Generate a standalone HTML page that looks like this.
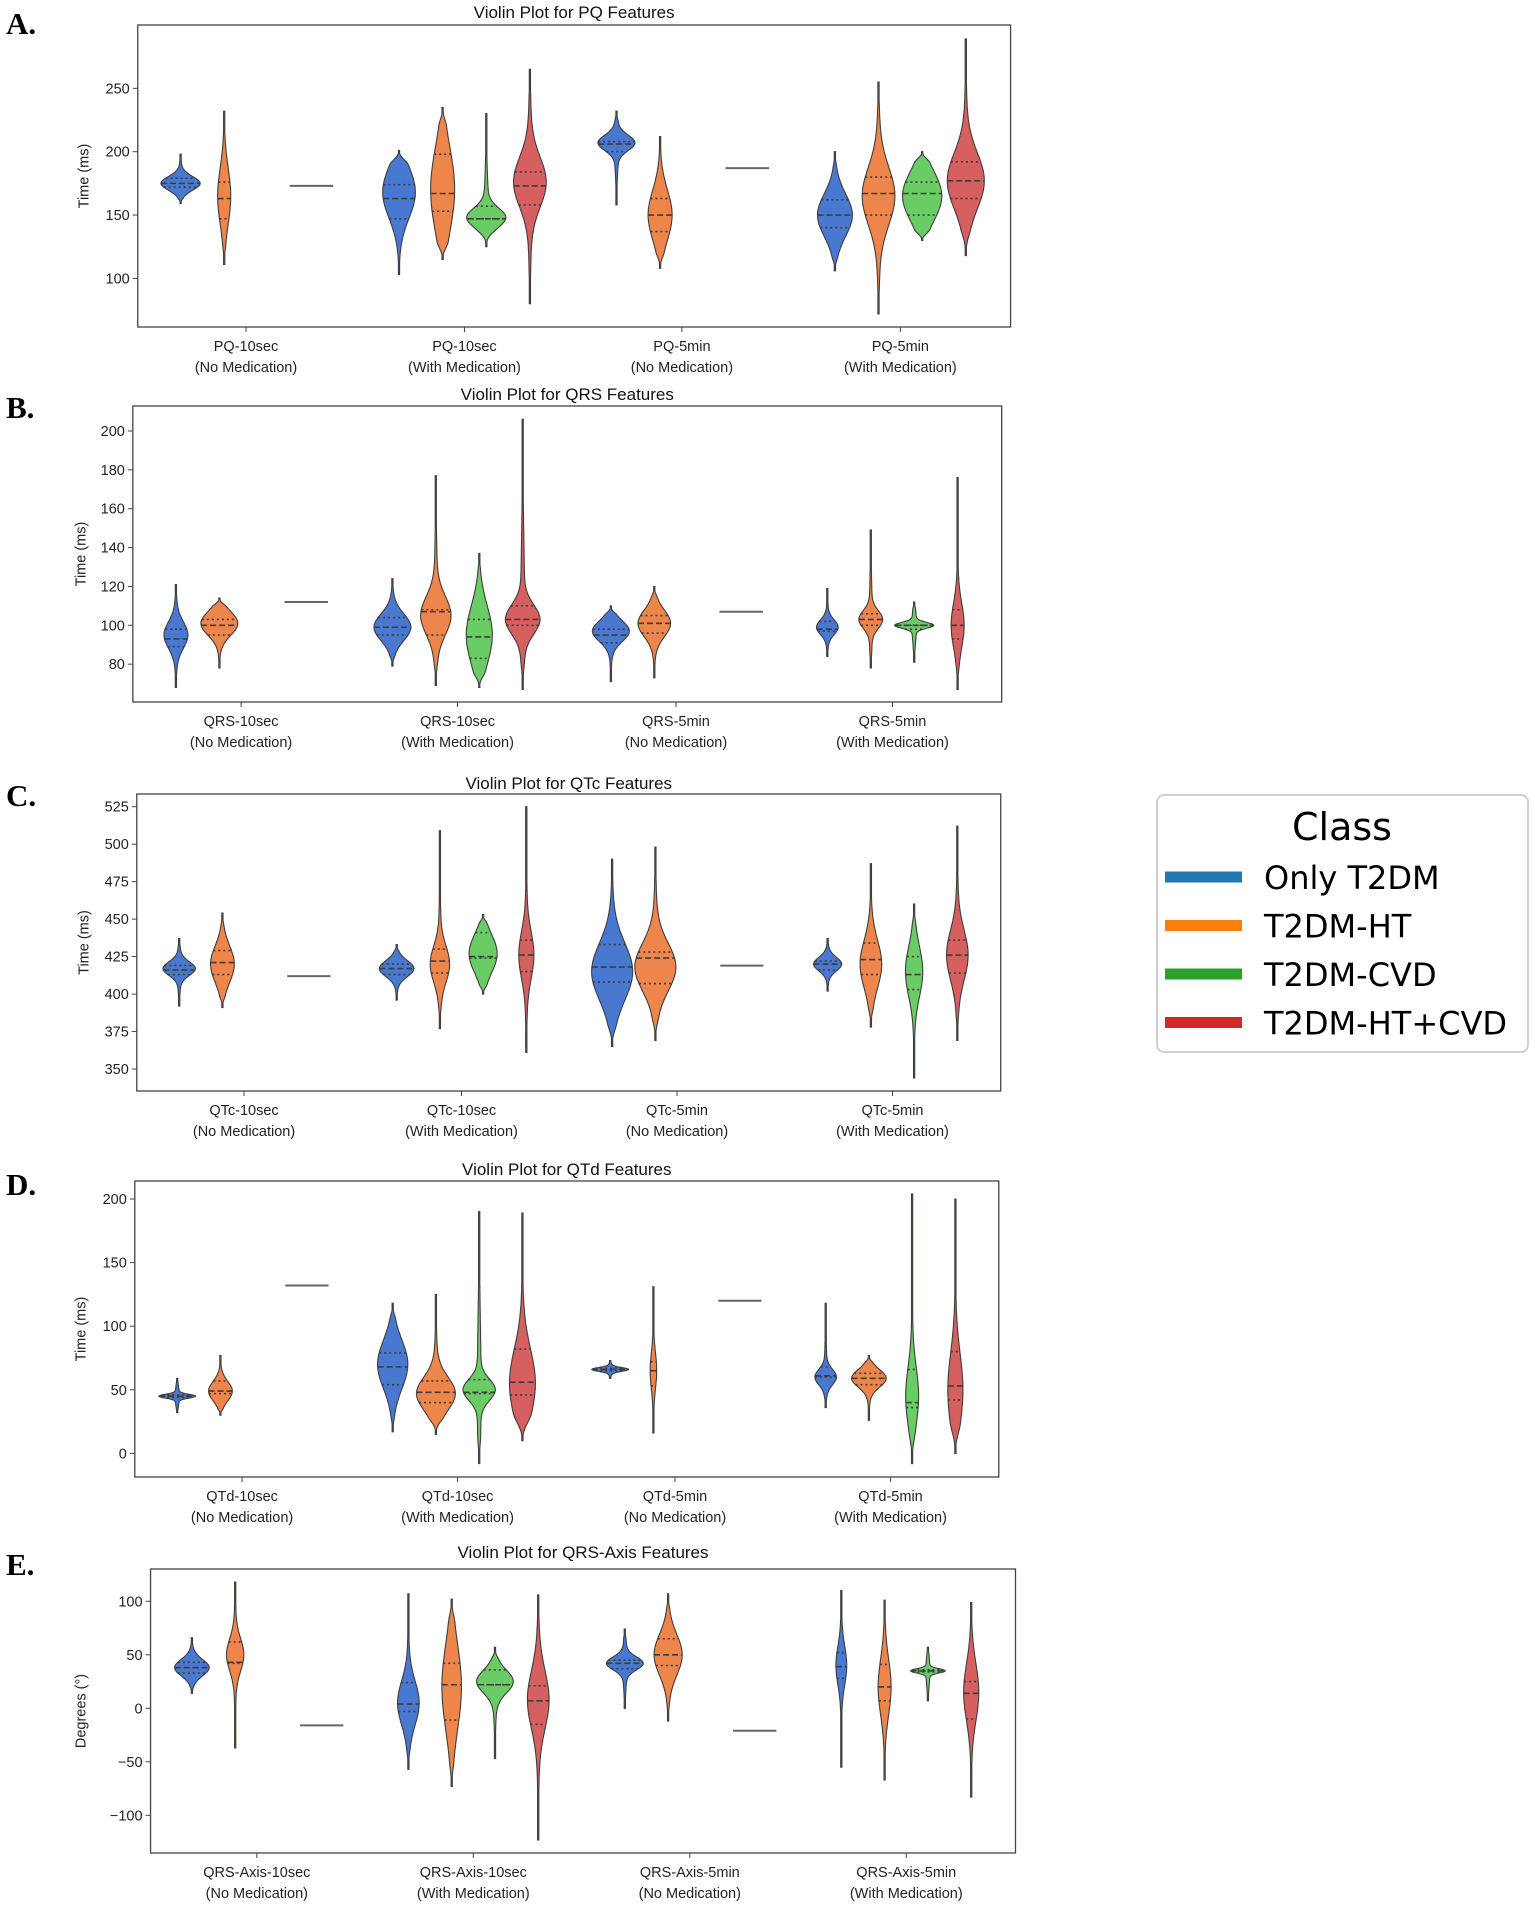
<!DOCTYPE html>
<html><head><meta charset="utf-8"><style>
html,body{margin:0;padding:0;background:#fff;}
svg{display:block;font-family:"Liberation Sans",sans-serif;}
</style></head><body>
<svg id="fig" width="1535" height="1913" viewBox="0 0 1535 1913" xmlns="http://www.w3.org/2000/svg"></svg>
<script>
// ---- Data: each violin = [min, max, q1, median, q3, mode, widthFactor]; null = absent
const hues = ["Only T2DM","T2DM-HT","T2DM-CVD","T2DM-HT+CVD"];
const fillColors = ["#4878d0","#ee854a","#6acc64","#d65f5f"];
const legendColors = ["#1f77b4","#ff7f0e","#2ca02c","#d62728"];
const medLabels = ["(No Medication)","(With Medication)","(No Medication)","(With Medication)"];

const pqCats = ["PQ-10sec","PQ-10sec","PQ-5min","PQ-5min"];
const pqViolins = [
 [[159,198,172,175,179,175,0.9],[111,232,147,163,176,165,0.3],null,null],
 [[103,201,147,163,174,168,0.75],[115,235,153,167,198,170,0.55],[125,230,147,147,157,148,0.9],[80,265,158,173,184,176,0.75]],
 [[158,232,200,206,208,207,0.85],[108,212,137,150,163,150,0.55],null,null],
 [[106,200,140,150,162,150,0.8],[72,255,150,167,180,165,0.75],[130,200,150,167,176,165,0.9],[118,289,163,177,192,177,0.85]]
];
const pqSingles = [173,null,187,null];
const pqTicks = [100,150,200,250];

const qrsCats = ["QRS-10sec","QRS-10sec","QRS-5min","QRS-5min"];
const qrsViolins = [
 [[68,121,89,93,98,95,0.55],[78,114,95,100,103,101,0.85],null,null],
 [[79,124,95,99,104,99,0.85],[69,177,95,107,108,105,0.7],[68,137,83,94,103,95,0.6],[67,206,100,103,110,103,0.8]],
 [[71,110,91,95,98,97,0.85],[73,120,96,101,105,101,0.75],null,null],
 [[84,119,97,98,102,99,0.5],[78,149,100,103,106,103,0.55],[81,112,98,100,100,100,0.9],[67,176,93,100,108,100,0.3]]
];
const qrsSingles = [112,null,107,null];
const qrsTicks = [80,100,120,140,160,180,200];

const qtcCats = ["QTc-10sec","QTc-10sec","QTc-5min","QTc-5min"];
const qtcViolins = [
 [[392,437,413,416,419,417,0.75],[391,454,413,421,429,420,0.55],null,null],
 [[396,433,413,417,420,417,0.8],[377,509,414,422,430,420,0.45],[400,453,424,425,441,427,0.65],[361,525,415,426,436,426,0.35]],
 [[365,490,408,418,433,415,0.95],[369,498,407,424,428,418,0.95],null,null],
 [[402,437,416,420,422,420,0.65],[378,487,413,423,434,420,0.5],[344,460,403,413,425,415,0.4],[369,512,414,426,436,426,0.5]]
];
const qtcSingles = [412,null,419,null];
const qtcTicks = [350,375,400,425,450,475,500,525];

const qtdCats = ["QTd-10sec","QTd-10sec","QTd-5min","QTd-5min"];
const qtdViolins = [
 [[32,59,44,45,46,45,0.85],[30,77,47,49,57,49,0.55],null,null],
 [[17,118,54,68,79,70,0.7],[15,125,40,48,57,47,0.9],[-8,190,47,48,58,50,0.75],[10,189,46,56,82,55,0.6]],
 [[59,73,65,66,67,66,0.85],[16,131,53,65,72,65,0.15],null,null],
 [[36,118,60,61,68,60,0.5],[26,77,54,59,63,59,0.8],[-8,204,36,40,66,45,0.3],[0,200,42,53,80,50,0.35]]
];
const qtdSingles = [132,null,120,null];
const qtdTicks = [0,50,100,150,200];

const axCats = ["QRS-Axis-10sec","QRS-Axis-10sec","QRS-Axis-5min","QRS-Axis-5min"];
const axViolins = [
 [[14,66,33,38,43,38,0.8],[-37,118,42,43,62,50,0.4],null,null],
 [[-57,107,-3,4,24,5,0.5],[-73,102,-11,22,42,20,0.45],[-47,57,22,22,36,25,0.85],[-123,106,-15,7,21,8,0.5]],
 [[0,74,37,42,45,42,0.85],[-12,107,40,50,65,50,0.65],null,null],
 [[-55,110,28,39,52,40,0.25],[-67,101,7,20,41,20,0.3],[7,57,34,35,36,35,0.8],[-83,99,-10,14,25,15,0.35]]
];
const axSingles = [-16,null,-21,null];
const axTicks = [-100,-50,0,50,100];

// ---- layout
const K=0.984;
const panels = [
 {letter:"A.",ly:34,title:"Violin Plot for PQ Features",ty:18,x0:140,x1:1027,y0:25,y1:327,vRef:200,yRef:151.7,ppu:1.267,cats:pqCats,cx:[250,472,693,915],v:pqViolins,s:pqSingles,ticks:pqTicks,ylab:"Time (ms)",ylx:90,name:"pq"},
 {letter:"B.",ly:418,title:"Violin Plot for QRS Features",ty:400,x0:135,x1:1018,y0:406,y1:702,vRef:200,yRef:431,ppu:1.943,cats:qrsCats,cx:[245,465,687,907],v:qrsViolins,s:qrsSingles,ticks:qrsTicks,ylab:"Time (ms)",ylx:87,name:"qrs"},
 {letter:"C.",ly:806,title:"Violin Plot for QTc Features",ty:789,x0:139,x1:1017,y0:794,y1:1091,vRef:525,yRef:806.7,ppu:1.499,cats:qtcCats,cx:[248,469,688,907],v:qtcViolins,s:qtcSingles,ticks:qtcTicks,ylab:"Time (ms)",ylx:90,name:"qtc"},
 {letter:"D.",ly:1195,title:"Violin Plot for QTd Features",ty:1175,x0:137,x1:1015,y0:1181,y1:1477,vRef:200,yRef:1199,ppu:1.272,cats:qtdCats,cx:[246,465,686,905],v:qtdViolins,s:qtdSingles,ticks:qtdTicks,ylab:"Time (ms)",ylx:87,name:"qtd"},
 {letter:"E.",ly:1575,title:"Violin Plot for QRS-Axis Features",ty:1558,x0:153,x1:1032,y0:1569,y1:1853,vRef:100,yRef:1601.3,ppu:1.07,cats:axCats,cx:[261,481,701,921],v:axViolins,s:axSingles,ticks:axTicks,ylab:"Degrees (°)",ylx:87,name:"qrs-axis"}
];
panels.forEach(p=>{p.x0*=K;p.x1*=K;p.cx=p.cx.map(c=>c*K);});
const NS="http://www.w3.org/2000/svg";
const svg=document.getElementById('fig');
function mk(tag,attrs,parent){const e=document.createElementNS(NS,tag);for(const k in attrs)e.setAttribute(k,attrs[k]);(parent||svg).appendChild(e);return e;}
function density(y,d){
  const [mn,mx,q1,md,q3,mode]=d;
  const s=Math.max((q3-q1)/1.35,(mx-mn)/25,1);
  const st=(mx-mn)/3.5;
  const z=(y-mode)/s, zt=(y-mode)/st;
  let dd=Math.exp(-0.5*z*z)+0.13*Math.exp(-0.5*zt*zt);
  const edge=Math.min(y-mn,mx-y)/((mx-mn)*0.12);
  const t=Math.max(0,Math.min(1,edge));
  return dd*(t*t*(3-2*t));
}
panels.forEach(p=>{
  const g=mk('g',{});
  
  
  const yS=v=>p.yRef+(p.vRef-v)*p.ppu;
  const spacing=(p.cx[3]-p.cx[0])/3;
  const maxHalf=spacing*0.8/4/2;
  const L=mk('text',{x:6,y:p.ly,'font-family':'Liberation Serif, serif','font-weight':'bold','font-size':31,fill:'#000'},g);
  L.textContent=p.letter;
  
  
  const T=mk('text',{x:(p.x0+p.x1)/2,y:p.ty,'text-anchor':'middle','font-size':17,fill:'#111'},g);
  T.textContent=p.title;
  
  
  const box=mk('rect',{x:p.x0,y:p.y0,width:p.x1-p.x0,height:p.y1-p.y0,fill:'none',stroke:'#444','stroke-width':1.3},g);
  
  
  p.ticks.forEach(t=>{
    const y=yS(t);
    mk('line',{x1:p.x0-5,x2:p.x0,y1:y,y2:y,stroke:'#444','stroke-width':1},g);
    const tx=mk('text',{x:p.x0-8,y:y+5,'text-anchor':'end','font-size':14.5,fill:'#222'},g);
    tx.textContent=String(t).replace('-','\u2212');
    
    
  });
  const ylx=p.ylx*K;
  const yl=mk('text',{x:ylx,y:(p.y0+p.y1)/2,'text-anchor':'middle','font-size':14.5,fill:'#222',transform:`rotate(-90 ${ylx} ${(p.y0+p.y1)/2})`},g);
  yl.textContent=p.ylab;
  
  
  p.cats.forEach((c,i)=>{
    const x=p.cx[i];
    mk('line',{x1:x,x2:x,y1:p.y1,y2:p.y1+5,stroke:'#444','stroke-width':1},g);
    const t1=mk('text',{x:x,y:p.y1+24,'text-anchor':'middle','font-size':14.5,fill:'#222'},g);
    t1.textContent=c;
    
    
    const t2=mk('text',{x:x,y:p.y1+45,'text-anchor':'middle','font-size':14.5,fill:'#222'},g);
    t2.textContent=medLabels[i];
    
    
    p.v[i].forEach((d,h)=>{
      if(!d)return;
      const xc=x+(h-1.5)*spacing*0.2;
      const [mn,mx,q1,md,q3,mode,w]=d;
      const N=100;let mxd=0;const ds=[];
      for(let k=0;k<=N;k++){const v=mn+(mx-mn)*k/N;const dd=density(v,d);ds.push([v,dd]);if(dd>mxd)mxd=dd;}
      const hw=v=>{const dd=density(v,d);return Math.max(dd/mxd*w*maxHalf,0.6);};
      let right=[],left=[];
      ds.forEach(([v,dd])=>{const h2=Math.max(dd/mxd*w*maxHalf,0.6);right.push(`${(xc+h2).toFixed(1)},${yS(v).toFixed(1)}`);left.unshift(`${(xc-h2).toFixed(1)},${yS(v).toFixed(1)}`);});
      const path=mk('path',{d:'M'+right.join('L')+'L'+left.join('L')+'Z',fill:fillColors[h],stroke:'#3d3d3d','stroke-width':1.1},g);
      
      
      [[q1,'2,3'],[md,'6,3'],[q3,'2,3']].forEach(([q,da])=>{
        const y=yS(q),h3=hw(q);
        mk('line',{x1:xc-h3,x2:xc+h3,y1:y,y2:y,stroke:'#3d3d3d','stroke-width':1.6,'stroke-dasharray':da},g);
      });
    });
    if(p.s[i]!==null){
      const xc=x+1.5*spacing*0.2;const y=yS(p.s[i]);
      const ln=mk('line',{x1:xc-maxHalf*1.0,x2:xc+maxHalf*1.0,y1:y,y2:y,stroke:'#666','stroke-width':2},g);
      
      
    }
  });
});
// legend
const lg=mk('g',{});


mk('rect',{x:1157,y:795,width:371,height:257,rx:7,fill:'#fff',stroke:'#d0d0d0','stroke-width':2},lg);
const lt=mk('text',{x:1342,y:840,'text-anchor':'middle','font-family':'DejaVu Sans, sans-serif','font-size':38,fill:'#000'},lg);
lt.textContent='Class';


hues.forEach((h,i)=>{
  const y=877+i*48.5;
  mk('line',{x1:1165,x2:1242,y1:y,y2:y,stroke:legendColors[i],'stroke-width':11},lg);
  const t=mk('text',{x:1264,y:y+12,'font-family':'DejaVu Sans, sans-serif','font-size':32,fill:'#000'},lg);
  t.textContent=h;
  
  
});
</script>
</body></html>
